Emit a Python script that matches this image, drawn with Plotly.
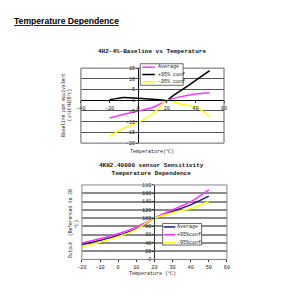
import plotly.graph_objects as go

# ---------------- data ----------------
top_temp = [-20, -10, 0, 10, 15, 20, 25, 30, 40, 45, 50]
top_avg = [-8.3, -6.5, -5.0, -3.4, -1.8, -0.2, 0.9, 1.7, 2.9, 3.3, 3.5]
top_plus = [0.2, 1.3, 0.9, 0.5, 0.2, 0.0, 2.4, 4.6, 9.2, 11.5, 13.8]
top_minus = [-16.8, -13.0, -10.3, -6.3, -3.3, 0.4, -0.8, -1.8, -2.9, -5.0, -7.5]
top_names = ["Average", "+95% conf", "-95% conf"]

bot_temp = [-20, -10, 0, 10, 15, 20, 30, 40, 50]
bot_avg = [36, 46, 58, 74, 86, 100, 116, 132, 153]
bot_plus = [40, 50, 62, 78, 89, 100, 120, 139, 168]
bot_minus = [30, 42, 55, 72, 87, 100, 113, 123, 140]
bot_names = ["Average", "+95%conf", "-95%conf"]

top_xticks = [-40, -20, 0, 20, 40, 60]
top_yticks = [-20, -15, -10, -5, 0, 5, 10, 15]
bot_xticks = [-20, -10, 0, 10, 20, 30, 40, 50, 60]
bot_yticks = [0, 20, 40, 60, 80, 100, 120, 140, 160, 180]

W = H = 300
def px(x):
    return x / W
def py(y):
    return 1 - y / H

MONO = "Liberation Mono"
TXT = "#222222"

fig = go.Figure()

top_colors = ["#FF33FF", "#000000", "#FFFF00"]
for name, vals, col in zip(top_names, [top_avg, top_plus, top_minus], top_colors):
    fig.add_trace(go.Scatter(x=top_temp, y=vals, name=name, mode="lines",
                             line=dict(color=col, width=1.5, shape="spline", smoothing=0.6),
                             xaxis="x", yaxis="y", showlegend=False))

bot_colors = ["#1a1a80", "#FF33FF", "#FFFF00"]
for name, vals, col in zip(bot_names, [bot_avg, bot_plus, bot_minus], bot_colors):
    fig.add_trace(go.Scatter(x=bot_temp, y=vals, name=name, mode="lines",
                             line=dict(color=col, width=1.5, shape="spline", smoothing=0.6),
                             xaxis="x2", yaxis="y2", showlegend=False))

# layout geometry
tx0, tx1 = px(78), px(225)
ty0, ty1 = py(144), py(67.5)
t_xpos_y = ty0 + (0 - (-20)) / 35 * (ty1 - ty0)
t_ypos_x = tx0 + (0 - (-40)) / 100 * (tx1 - tx0)

bx0, bx1 = px(79), px(228)
by0, by1 = py(262.7), py(186.7)
b_ypos_x = bx0 + (20 - (-20)) / 80 * (bx1 - bx0)

tickfont = dict(family=MONO, size=5.2, color=TXT)

fig.update_layout(
    width=W, height=H, margin=dict(l=0, r=0, t=0, b=0),
    paper_bgcolor="white", plot_bgcolor="white", showlegend=False,
    xaxis=dict(domain=[tx0, tx1], range=[-40, 60], anchor="free", position=t_xpos_y,
               tickvals=top_xticks, ticks="outside", ticklen=2, tickcolor="#333",
               showline=True, linecolor="#000", linewidth=1, showgrid=False, zeroline=False,
               tickfont=tickfont),
    yaxis=dict(domain=[ty0, ty1], range=[-20, 15], anchor="free", position=t_ypos_x,
               tickvals=top_yticks, ticks="outside", ticklen=2, tickcolor="#333",
               showline=True, linecolor="#000", linewidth=1, showgrid=True,
               gridcolor="#555555", gridwidth=1, zeroline=False, tickfont=tickfont),
    xaxis2=dict(domain=[bx0, bx1], range=[-20, 60], anchor="y2",
                tickvals=bot_xticks, ticks="outside", ticklen=2, tickcolor="#333",
                showline=True, linecolor="#666", linewidth=1, showgrid=False, zeroline=False,
                tickfont=tickfont),
    yaxis2=dict(domain=[by0, by1], range=[0, 180], anchor="free", position=b_ypos_x,
                tickvals=bot_yticks, ticks="outside", ticklen=2, tickcolor="#333",
                showline=True, linecolor="#333", linewidth=1, showgrid=True,
                gridcolor="#8a8a8a", gridwidth=1.8, zeroline=False, tickfont=tickfont),
)

shapes = []
shapes.append(dict(type="rect", xref="x domain", yref="y domain", x0=0, x1=1, y0=0, y1=1,
                   line=dict(color="#666", width=1)))
shapes.append(dict(type="rect", xref="x2 domain", yref="y2 domain", x0=0, x1=1, y0=0, y1=1,
                   line=dict(color="#888", width=1)))

annots = []
def legend(box, rows, names, colors, lx0, lx1, tx):
    x0, y0, x1, y1 = box
    shapes.append(dict(type="rect", xref="paper", yref="paper", x0=px(x0), x1=px(x1),
                       y0=py(y1), y1=py(y0), fillcolor="white",
                       line=dict(color="#444", width=0.8), layer="above"))
    for r, n, c in zip(rows, names, colors):
        shapes.append(dict(type="line", xref="paper", yref="paper", x0=px(lx0), x1=px(lx1),
                           y0=py(r), y1=py(r), line=dict(color=c, width=1.5), layer="above"))
        annots.append(dict(x=px(tx), y=py(r), xref="paper", yref="paper", text=n,
                           showarrow=False, xanchor="left", yanchor="middle",
                           font=dict(family=MONO, size=5, color=TXT)))

legend((139, 63, 183, 85), [66.5, 74, 81.5], top_names, top_colors, 141, 154, 155)
legend((162, 226, 202, 248), [229.5, 237.5, 245.5], bot_names, bot_colors, 163, 175, 175)

annots.append(dict(x=px(7), y=py(19), xref="paper", yref="paper",
                   text="<b><u>Temperature Dependence</u></b>", showarrow=False,
                   xanchor="left", yanchor="middle",
                   font=dict(family="Liberation Sans", size=8.6, color="#000")))
annots.append(dict(x=px(151), y=py(51), xref="paper", yref="paper",
                   text="<b>4H2-4%-Baseline vs Temperature</b>", showarrow=False,
                   xanchor="center", yanchor="middle",
                   font=dict(family=MONO, size=6, color="#111")))
annots.append(dict(x=px(151), y=py(171), xref="paper", yref="paper",
                   text="<b>4KH2.40000 sensor Sensitivity<br>Temperature Dependence</b>",
                   showarrow=False, xanchor="center", yanchor="middle",
                   font=dict(family=MONO, size=6, color="#111")))
annots.append(dict(x=px(151), y=py(153), xref="paper", yref="paper",
                   text="Temperature(℃)", showarrow=False, xanchor="center", yanchor="middle",
                   font=dict(family=MONO, size=5, color=TXT)))
annots.append(dict(x=px(152), y=py(278), xref="paper", yref="paper",
                   text="Temperature (℃)", showarrow=False, xanchor="center", yanchor="middle",
                   font=dict(family=MONO, size=5, color=TXT)))
annots.append(dict(x=px(63.5), y=py(105), xref="paper", yref="paper",
                   text="Baseline ppm equivalent<br>(unit=H2O℃)", showarrow=False,
                   textangle=-90, xanchor="center", yanchor="middle",
                   font=dict(family=MONO, size=4.6, color=TXT)))
annots.append(dict(x=px(70.5), y=py(226), xref="paper", yref="paper",
                   text="Output  (Referenced to 20<br>℃)", showarrow=False,
                   textangle=-90, xanchor="center", yanchor="middle",
                   font=dict(family=MONO, size=4.6, color=TXT)))

fig.update_layout(shapes=shapes, annotations=annots)
fig.write_html("out.html")
